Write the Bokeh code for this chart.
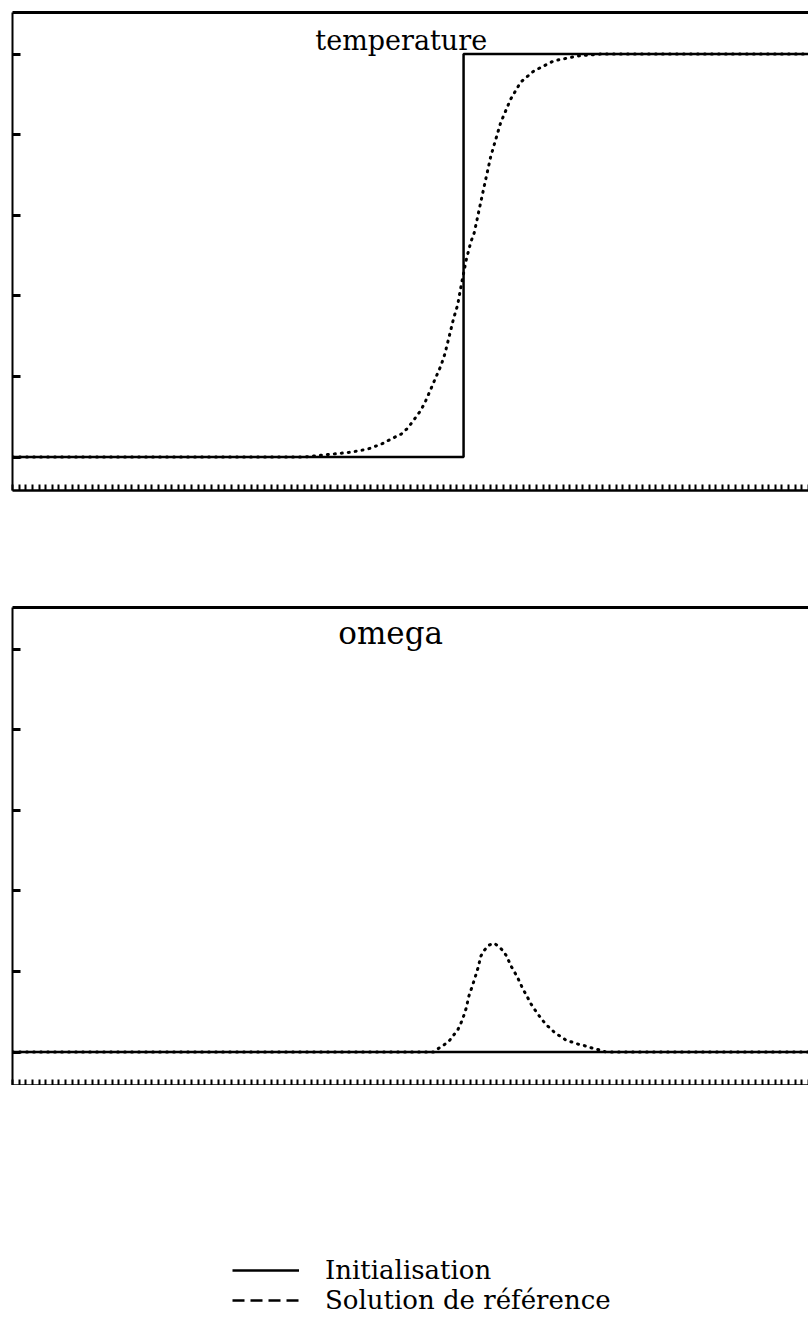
from bokeh.plotting import figure
from bokeh.models import Range1d, LinearAxis, FixedTicker, Label, Legend, LegendItem
from bokeh.layouts import column
from bokeh.embed import file_html
from bokeh.resources import INLINE

# ---------------- data ----------------
# temperature: initial step and reference solution
x_init_T = [0, 68, 68, 120]
T_init = [0, 0, 1, 1]

x_ref_T = [0, 44, 48.0, 51.0, 53.6, 55.6, 57.1, 58.6, 59.6, 60.5, 61.6, 62.3, 63.1,
           63.8, 64.6, 65.2, 65.8, 66.5, 67.1, 67.7, 68.4, 69.1, 69.6, 70.9, 72.1,
           73.6, 75.1, 76.6, 78.6, 81.6, 85.2, 88.7, 120]
T_ref = [0, 0, 0.007, 0.012, 0.020, 0.032, 0.045, 0.057, 0.072, 0.092, 0.117, 0.140,
         0.170, 0.197, 0.227, 0.257, 0.297, 0.344, 0.377, 0.431, 0.489, 0.534, 0.556,
         0.656, 0.746, 0.830, 0.888, 0.930, 0.958, 0.983, 0.995, 1.0, 1.0]

# omega: initial (zero) and reference solution
x_init_w = [0, 120]
w_init = [0, 0]

x_ref_w = [0, 63.5, 64.3, 65.0, 65.8, 66.5, 67.1, 67.8, 68.4, 68.8, 69.1, 69.6, 70.2,
           70.6, 71.1, 71.8, 72.6, 73.3, 73.9, 74.5, 75.1, 75.7, 76.2, 76.9, 77.7,
           78.1, 78.7, 79.3, 79.9, 80.5, 81.2, 81.8, 82.5, 83.4, 84.3, 85.2, 86.0,
           86.9, 87.9, 89.5, 120]
w_ref = [0, 0, 0.010, 0.017, 0.027, 0.042, 0.054, 0.079, 0.109, 0.139, 0.153, 0.178,
         0.210, 0.238, 0.252, 0.265, 0.270, 0.262, 0.252, 0.238, 0.215, 0.198, 0.183,
         0.158, 0.134, 0.121, 0.106, 0.092, 0.079, 0.067, 0.057, 0.047, 0.040, 0.030,
         0.025, 0.020, 0.017, 0.012, 0.008, 0.0, 0.0]

x_cells = list(range(0, 121))
y_ticks = [0, 0.2, 0.4, 0.6, 0.8, 1.0]

titles = ["temperature", "omega"]
legend_labels = ["Initialisation", "Solution de référence"]

FONT = "DejaVu Serif"


def make_panel(title, title_x, title_y, title_size, xi, yi, xr, yr, border_top, border_bottom):
    p = figure(width=808, height=border_top + 478 + border_bottom,
               x_range=Range1d(0, 120), y_range=Range1d(-0.083, 1.103),
               x_axis_type=None, y_axis_type=None,
               output_backend="svg", toolbar_location=None,
               min_border_left=12, min_border_right=0, min_border_top=border_top,
               min_border_bottom=border_bottom)
    p.outline_line_color = None
    p.background_fill_color = "white"
    p.border_fill_color = "white"

    bottom = LinearAxis(ticker=FixedTicker(ticks=[], minor_ticks=x_cells),
                        minor_tick_in=6, minor_tick_out=0, major_tick_in=0, major_tick_out=0,
                        minor_tick_line_width=2, minor_tick_line_color="black",
                        axis_line_width=2.5, axis_line_color="black",
                        major_label_standoff=0)
    p.add_layout(bottom, "below")

    left = LinearAxis(ticker=FixedTicker(ticks=[], minor_ticks=y_ticks),
                      minor_tick_in=8, minor_tick_out=0, major_tick_in=0, major_tick_out=0,
                      minor_tick_line_width=3, minor_tick_line_color="black",
                      axis_line_width=2, axis_line_color="black",
                      major_label_standoff=0)
    p.add_layout(left, "left")

    top = LinearAxis(ticker=FixedTicker(ticks=[], minor_ticks=[]),
                     minor_tick_in=0, minor_tick_out=0, major_tick_in=0, major_tick_out=0,
                     axis_line_width=3, axis_line_color="black",
                     major_label_standoff=0)
    p.add_layout(top, "above")

    p.line(xi, yi, line_color="black", line_width=2.5)
    p.line(xr, yr, line_color="black", line_width=3, line_dash="1 6", line_cap="round")

    p.add_layout(Label(x=title_x, y=title_y, text=title, text_font=FONT,
                       text_font_size=title_size, text_align="center",
                       text_baseline="alphabetic", text_color="black"))
    return p


p1 = make_panel(titles[0], 58.6, 1.034, "27px", x_init_T, T_init, x_ref_T, T_ref, 12, 113)
p2 = make_panel(titles[1], 57.0, 1.039, "31px", x_init_w, w_init, x_ref_w, w_ref, 4, 0)

# legend panel
pl = figure(width=808, height=235, x_range=Range1d(1000, 1001), y_range=Range1d(1000, 1001),
            x_axis_type=None, y_axis_type=None, output_backend="svg",
            toolbar_location=None, min_border=0)
pl.outline_line_color = None
r1 = pl.line(x_init_w, w_init, line_color="black", line_width=2.5)
r2 = pl.line(x_ref_w, w_ref, line_color="black", line_width=2.5, line_dash="12 6")
legend = Legend(items=[LegendItem(label=legend_labels[0], renderers=[r1]),
                       LegendItem(label=legend_labels[1], renderers=[r2])],
                location=(220, 5), glyph_width=67, glyph_height=30, label_height=30,
                label_standoff=26, padding=0, spacing=0, margin=0,
                border_line_color=None, background_fill_alpha=0,
                label_text_font=FONT, label_text_font_size="26px",
                label_text_color="black")
pl.add_layout(legend)

layout = column(p1, p2, pl, spacing=0)

open("out.html", "w").write(file_html(layout, INLINE))
